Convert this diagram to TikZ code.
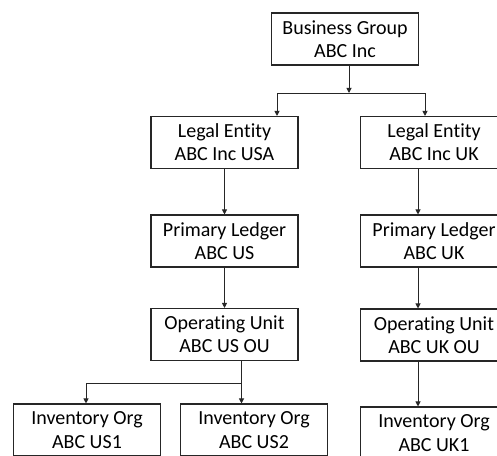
\documentclass[tikz,border=0pt]{standalone}
\usepackage{fontspec}
\setmainfont[Ligatures=NoCommon]{Carlito}
\usetikzlibrary{arrows.meta}
\tikzset{
  orgbox/.style={draw=black!85,line width=0.55pt,minimum width=73.5pt,minimum height=26pt,
    inner sep=0pt,align=center,font=\fontsize{10}{11.6}\selectfont},
  arr/.style={-{Triangle[length=2.6pt,width=2.6pt]}},
}
\begin{document}
\begin{tikzpicture}[x=0.5pt,y=-0.5pt,line width=0.5pt,draw=black!85]
      \useasboundingbox (0,0) rectangle (497,455);
      \clip (0,0) rectangle (497,455);
      \foreach \n/\x/\y/\a/\b in {bg/345/39/Business Group/ABC Inc,
          leUSA/224.5/142.5/Legal Entity/ABC Inc USA, leUK/434/142.5/Legal Entity/ABC Inc UK,
          plUS/224.5/241/Primary Ledger/ABC US, plUK/434/241/Primary Ledger/ABC UK,
          ouUS/224.5/334.5/Operating Unit/ABC US OU, ouUK/434/335/Operating Unit/ABC UK OU,
          inv1/87/430/Inventory Org/ABC US1, inv2/254/430/Inventory Org/ABC US2,
          invUK/434/433/Inventory Org/ABC UK1}{
        \node[orgbox](\n) at(\x,\y) {\a\\\b};
      }
      \coordinate (j1) at (349,93);
      \coordinate (j1l) at (277,93);
      \coordinate (j1r) at (425,93);
      \coordinate (j2) at (241.5,383);
      \coordinate (j2l) at (86,383);
      \coordinate (ukx) at (418,0);
      \draw[arr] (bg.south -| j1) -- (j1);
      \draw (j1l) -- (j1r);
      \draw[arr] (j1l) -- (j1l |- leUSA.north);
      \draw[arr] (j1r) -- (j1r |- leUK.north);
      \foreach \x/\y in {leUSA/plUS, plUS/ouUS}{
        \draw[arr] (\x) -- (\y);
      }
      \foreach \x/\y in {leUK/plUK, plUK/ouUK, ouUK/invUK}{
        \draw[arr] (\x.south -| ukx) -- (\y.north -| ukx);
      }
      \draw (ouUS.south -| j2) -- (j2) -- (j2l);
      \draw[arr] (j2) -- (j2 |- inv2.north);
      \draw[arr] (j2l) -- (j2l |- inv1.north);
    \end{tikzpicture}
\end{document}
